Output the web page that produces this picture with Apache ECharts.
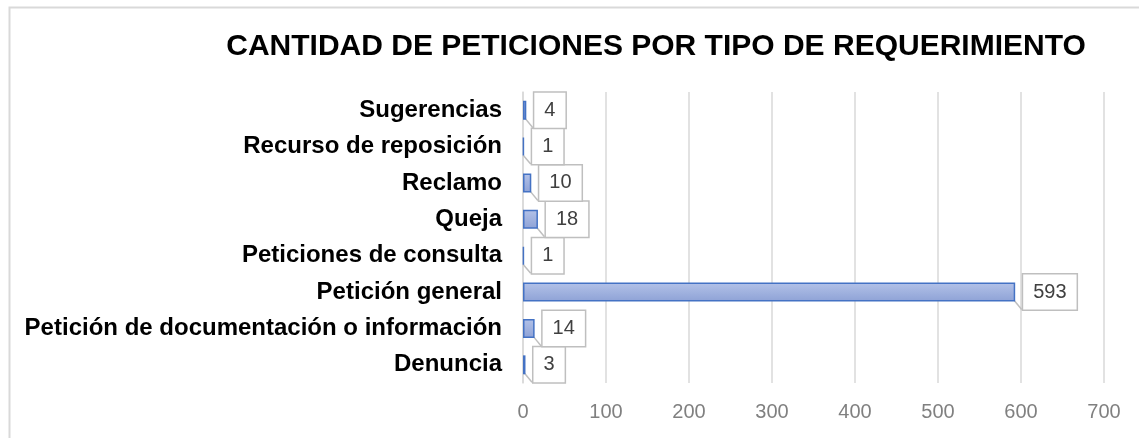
<!DOCTYPE html>
<html><head><meta charset="utf-8">
<script src="https://cdn.jsdelivr.net/npm/echarts@6/dist/echarts.min.js"></script>
<style>html,body{margin:0;padding:0;background:#fff}#c{width:1139px;height:438px}</style>
</head><body><div id="c"></div>
<script>
var title = 'CANTIDAD DE PETICIONES POR TIPO DE REQUERIMIENTO';
var categories = ['Denuncia','Petición de documentación o información','Petición general','Peticiones de consulta','Queja','Reclamo','Recurso de reposición','Sugerencias'];
var values = [3, 14, 593, 1, 18, 10, 1, 4];
var xTicks = {min: 0, max: 700, interval: 100};

var chart = echarts.init(document.getElementById('c'), null, {renderer: 'canvas'});
chart.setOption({
  animation: false,
  backgroundColor: '#ffffff',
  graphic: [{
    type: 'rect', left: 7, top: 5, z: -1,
    shape: {width: 1200, height: 500},
    style: {fill: 'none', stroke: '#d9d9d9', lineWidth: 2}
  }],
  title: {
    text: title, left: 651, top: 27, textAlign: 'center',
    textStyle: {fontFamily: 'Liberation Sans, Arial, sans-serif', fontWeight: 'bold', fontSize: 30, color: '#000'}
  },
  grid: {left: 523, right: 35, top: 92, bottom: 55, containLabel: false},
  xAxis: {
    type: 'value', min: xTicks.min, max: xTicks.max, interval: xTicks.interval,
    axisLine: {show: false}, axisTick: {show: false},
    splitLine: {show: true, lineStyle: {color: '#d9d9d9', width: 1.5}},
    axisLabel: {color: '#808080', fontSize: 20, fontFamily: 'Liberation Sans, Arial, sans-serif', margin: 19}
  },
  yAxis: {
    type: 'category', data: categories,
    axisLine: {show: true, lineStyle: {color: '#d9d9d9', width: 1.5}}, axisTick: {show: false},
    axisLabel: {color: '#000', fontWeight: 'bold', fontSize: 24, fontFamily: 'Liberation Sans, Arial, sans-serif', margin: 21}
  },
  series: [{
    type: 'bar', data: values, barWidth: '52%',
    itemStyle: {
      color: new echarts.graphic.LinearGradient(0, 0, 0, 1, [
        {offset: 0, color: '#b3c2e8'}, {offset: 1, color: '#8ea2d6'}
      ]),
      borderColor: '#4472c4', borderWidth: 1.5
    },
    label: {
      show: true, position: 'right', distance: 8,
      color: '#404040', fontSize: 20, fontFamily: 'Liberation Sans, Arial, sans-serif',
      backgroundColor: '#ffffff', borderColor: '#bfbfbf', borderWidth: 1.5,
      padding: [8, 10, 7, 10]
    },
    labelLine: {show: true, lineStyle: {color: '#bfbfbf', width: 1.5}}
  }]
});
</script></body></html>
